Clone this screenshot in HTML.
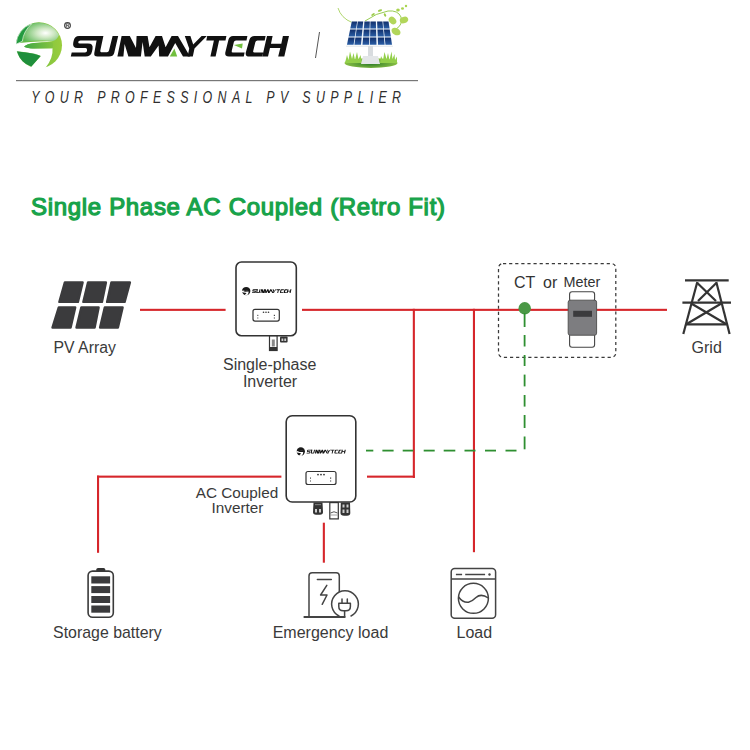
<!DOCTYPE html>
<html><head><meta charset="utf-8">
<style>
html,body{margin:0;padding:0;background:#fff;width:750px;height:750px;overflow:hidden}
svg{display:block;position:absolute;left:0;top:0}
text{font-family:"Liberation Sans",sans-serif}
</style></head>
<body>
<svg width="750" height="750" viewBox="0 0 750 750">
<defs>
  <radialGradient id="capg" cx="0.62" cy="0.55" r="0.7">
    <stop offset="0" stop-color="#ffffff"/>
    <stop offset="0.35" stop-color="#cfe8c4"/>
    <stop offset="1" stop-color="#58b552"/>
  </radialGradient>
  <linearGradient id="rightg" x1="0" y1="0" x2="1" y2="0">
    <stop offset="0" stop-color="#5cb848"/>
    <stop offset="1" stop-color="#9acd3c"/>
  </linearGradient>
  <linearGradient id="midg" x1="0" y1="0" x2="1" y2="0">
    <stop offset="0" stop-color="#3fa845"/>
    <stop offset="1" stop-color="#86c440"/>
  </linearGradient>
  <linearGradient id="panelg" x1="0" y1="0" x2="0" y2="1">
    <stop offset="0" stop-color="#12306c"/>
    <stop offset="1" stop-color="#2a5ea6"/>
  </linearGradient>
  <radialGradient id="grassg" cx="0.5" cy="0.6" r="0.6">
    <stop offset="0" stop-color="#2f7d2a"/>
    <stop offset="1" stop-color="#9ccc4a"/>
  </radialGradient>
</defs>

<!-- ===== Header logo ===== -->
<g id="logo">
  <!-- right crescent + cap base -->
  <circle cx="39" cy="45.3" r="23" fill="url(#rightg)"/>
  <!-- top cap -->
  <path d="M23.5,41.5 Q23,30 32,23.7 A23,23 0 0 1 59,35 Q57,40 53,41 Q41,40 23.5,41.5Z" fill="url(#capg)"/>
  <!-- white S swoosh -->
  <path id="swoosh" d="M14,43.8 Q30,41 53,41.2 Q40,42.6 34,42.9 Q26,44 24.1,46.8 Q28,48.8 34,48.6 L52.5,48.2 Q53.5,58 45,68.5 L30,70 L31.4,66.6 L40.8,56 Q36,53.5 17,51.3 L14,51Z" fill="#fff"/>
  <!-- middle band -->
  <path d="M24.1,46.8 Q27,43.5 34,42.9 L52.5,42.2 Q54,45 52.5,48.2 L34,48.6 Q27,48.6 24.1,46.8Z" fill="url(#midg)"/>
  <!-- top-left dark crescent -->
  <path d="M16,44.2 A23,23 0 0 1 31.8,23.7 Q23.5,31 22.3,41.3 Z" fill="#239a3f" stroke="#fff" stroke-width="0.6"/>
  <!-- bottom-left dark -->
  <path d="M17.1,51.5 Q36,53.5 40.6,55.9 L31.4,66.6 A23,23 0 0 1 17.1,51.5Z" fill="#1f8f3c"/>
  <!-- registered mark -->
  <circle cx="67.5" cy="25.5" r="2.9" fill="none" stroke="#444" stroke-width="1.1"/>
  <path d="M66.3,27.3 V23.8 H67.9 Q69,23.8 69,24.7 Q69,25.6 67.9,25.6 H66.3 M67.8,25.6 L69,27.3" fill="none" stroke="#444" stroke-width="0.8"/>
  <!-- brand text -->
  <g id="brandtext" fill="#111">
    <path d="M79,36 L102,36 L101,40.4 L80.5,40.4 Q78.5,40.4 78.2,42 Q78,43.6 80,43.6 L88,43.6 Q93.5,43.6 92.5,49 L92,51.5 Q91,56.6 85.5,56.6 L70.8,56.6 L71.7,52.4 L85,52.4 Q86.8,52.4 87,51 Q87.3,48 85.5,48 L77.5,48 Q72.3,48 73.2,43 L73.6,41 Q74.6,36 79,36Z"/>
    <path d="M97.4,36 L103.4,36 L100.4,50 Q99.8,52.3 102,52.3 L107,52.3 Q108.5,52.3 109,50.5 L112.6,36 L118.2,36 L114.2,53 Q113.3,56.6 109,56.6 L97.5,56.6 Q93.6,56.6 94.3,53Z"/>
    <path d="M117.4,56.6 L121.6,36 L129.8,36 L136,48 L136.6,36 L147.6,36 L149.5,47.2 L155.6,36 L162,36 L165.6,47.2 L171.6,36 L178,36 L190,56.6 L183,56.6 L175.2,43 L168,56.6 L159.2,56.6 L158.6,45.5 L150.8,56.6 L144.7,56.6 L142.6,42 L140.9,56.6 L128.4,56.6 L124.6,44 L123.4,56.6Z"/>
    <path d="M184.8,36 L190.4,36 L193.2,44.5 L201.6,36 L206.8,36 L194.5,48.5 L192.8,56.6 L187.6,56.6 L189.2,48.5Z"/>
    <path d="M207.2,36 L226.4,36 L225.5,40.4 L219.1,40.4 L215.6,56.6 L210.4,56.6 L213.9,40.4 L206.3,40.4Z"/>
    <path d="M233,36 L247.4,36 L246.5,40.5 L236,40.5 Q234.3,40.5 233.9,42 L231.7,51 Q231.3,52.5 233,52.5 L244.6,52.5 L243.8,56.6 L229,56.6 Q224.5,56.6 225.3,52.5 L228.5,39.5 Q229.5,36 233,36Z"/>
    <path d="M254.5,36 L265.6,36 L264.7,40.5 L257.5,40.5 Q255.8,40.5 255.4,42 L253.2,51 Q252.8,52.5 254.5,52.5 L263.2,52.5 L262.3,56.6 L249.5,56.6 Q245,56.6 245.8,52.5 L249.5,39.5 Q250.5,36 254.5,36Z"/>
    <path d="M267,36 L272.6,36 L271,43.7 L281.3,43.7 L282.9,36 L289,36 L284.3,56.6 L278.2,56.6 L280.3,48 L270,48 L268,56.6 L262.3,56.6Z"/>
  </g>
  <path d="M169.8,56.6 L174.4,48.4 L177.2,56.6Z" fill="#72bf3f"/>
  <path d="M233.9,45.1 L242.7,43.4 L242,48.4Z" fill="#72bf3f"/>
</g>

<!-- slash -->
<line x1="319.5" y1="32" x2="315.5" y2="58" stroke="#555" stroke-width="1"/>

<!-- solar panel picture -->
<g id="panel">
  <!-- vine -->
  <path d="M338,8 Q341,18 352,22.5" stroke="#9ccb4a" stroke-width="0.8" fill="none"/>
  <path d="M365,21 Q376,13 388,11 Q398,10 401,17 Q403,25 396,29" stroke="#8cc63f" stroke-width="0.9" fill="none"/>
  <ellipse cx="392.5" cy="20.5" rx="4.3" ry="3.3" transform="rotate(50 392.5 20.5)" fill="#b2d65a"/>
  <ellipse cx="404" cy="20" rx="4.3" ry="3.2" transform="rotate(-20 404 20)" fill="#b2d65a"/>
  <ellipse cx="396" cy="31.5" rx="4.8" ry="3.4" transform="rotate(30 396 31.5)" fill="#b2d65a"/>
  <ellipse cx="398" cy="10" rx="1.8" ry="1.5" fill="#a9d44f"/>
  <ellipse cx="402.5" cy="8.5" rx="1.5" ry="1.3" fill="#a9d44f"/>
  <ellipse cx="406" cy="6" rx="1.2" ry="1.2" fill="#a9d44f"/>
  <ellipse cx="380" cy="10.5" rx="2.2" ry="1" transform="rotate(-20 380 10.5)" fill="#9ccb4a"/>
  <ellipse cx="373" cy="14.5" rx="2" ry="1" transform="rotate(-30 373 14.5)" fill="#9ccb4a"/>
  <ellipse cx="385" cy="15" rx="1.8" ry="1" transform="rotate(60 385 15)" fill="#9ccb4a"/>
  <!-- panel -->
  <path d="M351.6,21.3 L388.7,21.3 L392.4,45 L346.6,45Z" fill="#f0f6fb"/>
  <g fill="url(#panelg)">
  <path d="M351.80,21.6 L357.16,21.6 L356.07,28.6 L350.35,28.6Z"/>
  <path d="M357.82,21.6 L363.18,21.6 L362.50,28.6 L356.78,28.6Z"/>
  <path d="M364.46,21.6 L369.82,21.6 L369.60,28.6 L363.87,28.6Z"/>
  <path d="M370.48,21.6 L375.84,21.6 L376.03,28.6 L370.31,28.6Z"/>
  <path d="M377.12,21.6 L382.48,21.6 L383.13,28.6 L377.40,28.6Z"/>
  <path d="M383.14,21.6 L388.50,21.6 L389.56,28.6 L383.84,28.6Z"/>
  <path d="M350.14,29.6 L355.92,29.6 L354.83,36.6 L348.68,36.6Z"/>
  <path d="M356.63,29.6 L362.41,29.6 L361.73,36.6 L355.59,36.6Z"/>
  <path d="M363.79,29.6 L369.57,29.6 L369.35,36.6 L363.20,36.6Z"/>
  <path d="M370.28,29.6 L376.06,29.6 L376.25,36.6 L370.11,36.6Z"/>
  <path d="M377.44,29.6 L383.22,29.6 L383.87,36.6 L377.72,36.6Z"/>
  <path d="M383.93,29.6 L389.71,29.6 L390.77,36.6 L384.63,36.6Z"/>
  <path d="M348.48,37.6 L354.67,37.6 L353.57,44.7 L347.00,44.7Z"/>
  <path d="M355.44,37.6 L361.63,37.6 L360.95,44.7 L354.38,44.7Z"/>
  <path d="M363.12,37.6 L369.32,37.6 L369.10,44.7 L362.52,44.7Z"/>
  <path d="M370.08,37.6 L376.28,37.6 L376.48,44.7 L369.90,44.7Z"/>
  <path d="M377.77,37.6 L383.96,37.6 L384.62,44.7 L378.05,44.7Z"/>
  <path d="M384.73,37.6 L390.92,37.6 L392.00,44.7 L385.43,44.7Z"/>
  </g>
  <line x1="346" y1="46.2" x2="393" y2="46.2" stroke="#d8dde2" stroke-width="0.8"/>
  <!-- grass -->
  <ellipse cx="371" cy="63" rx="26.5" ry="5" fill="url(#grassg)"/>
  <path d="M345,63 L347,55 L348.5,60 L350,51.5 L352,59 L353.5,53 L355,60 L357,52 L358.5,59.5 L360.5,55 L362,63Z M380,63 L381,56 L383,60 L384.5,52 L386.5,59 L388,53 L389.5,60 L391.5,51.5 L392.5,59 L394.5,54 L395,60 L397,56.5 L397,63Z" fill="#93cf4a"/>
  <!-- pole & base -->
  <rect x="368" y="46" width="5" height="11" fill="#d8dcdf"/>
  <path d="M363,56 L378,56 L380,64 L361,64Z" fill="#e3e6e8"/>
</g>

<!-- rule -->
<rect x="16" y="80" width="402" height="1.2" fill="#777"/>
<!-- tagline -->
<text x="0" y="0" transform="translate(31.2,103.2) scale(0.74,1)" font-size="16.8" font-style="italic" fill="#2e2e2e" letter-spacing="7.2">YOUR PROFESSIONAL PV SUPPLIER</text>

<!-- title -->
<text x="31" y="215.3" font-size="24" fill="#18a34a" stroke="#18a34a" stroke-width="1.25" letter-spacing="0.68">Single Phase AC Coupled (Retro Fit)</text>

<!-- ===== red power lines ===== -->
<g fill="#d6262b">
  <rect x="140" y="308.8" width="85.6" height="2.1"/>
  <rect x="302" y="308.8" width="365" height="2.1"/>
  <rect x="412.8" y="308.8" width="2.1" height="169.2"/>
  <rect x="472.9" y="308.8" width="2.1" height="243.4"/>
  <rect x="367" y="475.6" width="47.9" height="2.1"/>
  <rect x="97" y="475.6" width="184.4" height="2.1"/>
  <rect x="97" y="475.6" width="2.1" height="77.2"/>
  <rect x="322.8" y="522.7" width="2.1" height="40"/>
</g>

<!-- ===== PV array ===== -->
<g fill="#3b3b3d" stroke="#3b3b3d" stroke-width="2.4" stroke-linejoin="round">
  <path d="M64.9,282.4 L82.6,282.4 L77.9,301.9 L59.4,301.9Z"/>
  <path d="M88.1,282.4 L105.9,282.4 L101.9,301.9 L83.4,301.9Z"/>
  <path d="M111.4,282.4 L129.9,282.4 L124.6,301.9 L107.1,301.9Z"/>
  <path d="M58.8,307.4 L75.2,307.4 L70.6,327.6 L52.5,327.6Z"/>
  <path d="M81.4,307.4 L98.6,307.4 L94.6,327.6 L76.5,327.6Z"/>
  <path d="M104.8,307.4 L122.6,307.4 L117.9,327.6 L100.1,327.6Z"/>
</g>
<text x="53.5" y="353" font-size="15.8" fill="#3a3a3a">PV Array</text>

<!-- ===== Single-phase inverter ===== -->
<g id="inv1">
  <rect x="236" y="262" width="60.3" height="73.7" rx="5.5" fill="#fff" stroke="#333" stroke-width="1.6"/>
  <g transform="translate(246.2,291.05) scale(0.181) translate(-39,-45.3)">
    <circle cx="39" cy="45.3" r="23" fill="#1a1a1a"/>
    <path d="M14,43.8 Q30,41 53,41.2 Q40,42.6 34,42.9 Q26,44 24.1,46.8 Q28,48.8 34,48.6 L52.5,48.2 Q53.5,58 45,68.5 L30,70 L31.4,66.6 L40.8,56 Q36,53.5 17,51.3 L14,51Z" fill="#fff"/>
    <use href="#brandtext" fill="#222"/>
  </g>
  <rect x="253" y="309.3" width="26.3" height="11.8" rx="2" fill="#fff" stroke="#333" stroke-width="1.2"/>
  <circle cx="263.5" cy="312.3" r="0.8" fill="#333"/><circle cx="266" cy="312.3" r="0.8" fill="#333"/><circle cx="268.5" cy="312.3" r="0.8" fill="#333"/>
  <rect x="257.3" y="314.8" width="1" height="1.2" fill="#444"/><rect x="257.3" y="317.5" width="1" height="1" fill="#444"/>
  <rect x="273.8" y="314.8" width="1.2" height="1.2" fill="#444"/><rect x="273.8" y="317.5" width="1.2" height="1" fill="#444"/>
  <!-- connectors -->
  <rect x="269.5" y="336" width="7.6" height="14.5" fill="#fff" stroke="#333" stroke-width="1.2"/>
  <rect x="271.8" y="339.5" width="3" height="7" fill="#888"/>
  <rect x="269.5" y="347" width="7.6" height="3.5" fill="#333"/>
  <rect x="280" y="336.5" width="7.6" height="6" rx="1" fill="#333"/>
  <rect x="281.5" y="338.5" width="1.8" height="2.5" fill="#ccc"/><rect x="284.3" y="338.5" width="1.8" height="2.5" fill="#ccc"/>
</g>
<text x="269.7" y="370.2" font-size="16" fill="#3a3a3a" text-anchor="middle">Single-phase</text>
<text x="270" y="386.6" font-size="16" fill="#3a3a3a" text-anchor="middle">Inverter</text>

<!-- ===== CT / Meter dashed box ===== -->
<rect x="498.5" y="263.5" width="117.3" height="93.8" rx="4.5" fill="none" stroke="#3a3a3a" stroke-width="1.25" stroke-dasharray="3.2 2.9"/>
<text x="514" y="287.7" font-size="16" fill="#333">CT</text>
<text x="543" y="287.7" font-size="16" fill="#333">or</text>
<text x="563.6" y="286.8" font-size="14.4" fill="#333">Meter</text>
<!-- meter -->
<rect x="569.6" y="291.8" width="25" height="10" rx="2.5" fill="#fff" stroke="#444" stroke-width="1.1"/>
<rect x="569.6" y="333" width="25" height="14.3" rx="2.5" fill="#fff" stroke="#444" stroke-width="1.1"/>
<rect x="568.2" y="300.2" width="28.4" height="35" rx="2" fill="#7d7d80" stroke="#555" stroke-width="1"/>
<rect x="573.2" y="310.8" width="18.8" height="6" fill="#3b3b3d"/>
<!-- CT dot -->
<circle cx="524.7" cy="308.3" r="6.2" fill="#4a9846"/>

<!-- ===== green dashed signal line ===== -->
<g fill="#2e8f31">
  <rect x="523.7" y="313" width="1.8" height="14.0"/>
  <rect x="523.7" y="335" width="1.8" height="11.5"/>
  <rect x="523.7" y="355" width="1.8" height="11.0"/>
  <rect x="523.7" y="374.6" width="1.8" height="11.8"/>
  <rect x="523.7" y="395" width="1.8" height="11.6"/>
  <rect x="523.7" y="415" width="1.8" height="13.0"/>
  <rect x="523.7" y="436.5" width="1.8" height="12.8"/>
  <rect x="366" y="449.7" width="7.3" height="1.8"/>
  <rect x="382.4" y="449.7" width="11.2" height="1.8"/>
  <rect x="402.7" y="449.7" width="10.6" height="1.8"/>
  <rect x="423.7" y="449.7" width="11.0" height="1.8"/>
  <rect x="443.7" y="449.7" width="11.6" height="1.8"/>
  <rect x="464.5" y="449.7" width="11.0" height="1.8"/>
  <rect x="485" y="449.7" width="11.0" height="1.8"/>
  <rect x="505.5" y="449.7" width="11.0" height="1.8"/>
</g>

<!-- ===== Grid tower ===== -->
<g stroke="#333" stroke-width="2.2" fill="none" stroke-linecap="butt">
  <line x1="685" y1="280.3" x2="728.7" y2="280.3"/>
  <line x1="682.4" y1="302.7" x2="731" y2="302.7"/>
  <line x1="686" y1="324.4" x2="726.7" y2="324.4"/>
  <line x1="697.3" y1="282" x2="683.3" y2="334"/>
  <line x1="716.3" y1="282" x2="729.6" y2="334"/>
  <line x1="697.3" y1="283" x2="716" y2="301"/>
  <line x1="716.3" y1="283" x2="698" y2="301"/>
  <line x1="691.3" y1="303.5" x2="726" y2="324"/>
  <line x1="721.3" y1="303.5" x2="686.7" y2="324"/>
</g>
<text x="706.7" y="352.7" font-size="16" fill="#3a3a3a" text-anchor="middle">Grid</text>

<!-- ===== AC coupled inverter ===== -->
<g id="inv2">
  <rect x="286.2" y="415.7" width="69.6" height="86.3" rx="6" fill="#fff" stroke="#333" stroke-width="1.6"/>
  <g transform="translate(300.8,451.45) scale(0.18) translate(-39,-45.3)">
    <circle cx="39" cy="45.3" r="23" fill="#1a1a1a"/>
    <path d="M14,43.8 Q30,41 53,41.2 Q40,42.6 34,42.9 Q26,44 24.1,46.8 Q28,48.8 34,48.6 L52.5,48.2 Q53.5,58 45,68.5 L30,70 L31.4,66.6 L40.8,56 Q36,53.5 17,51.3 L14,51Z" fill="#fff"/>
    <use href="#brandtext" fill="#222"/>
  </g>
  <rect x="306" y="471.5" width="30" height="13" rx="2" fill="#fff" stroke="#333" stroke-width="1.2"/>
  <circle cx="318" cy="474.6" r="0.9" fill="#333"/><circle cx="321" cy="474.6" r="0.9" fill="#333"/><circle cx="324" cy="474.6" r="0.9" fill="#333"/>
  <rect x="310" y="477.5" width="1" height="1.2" fill="#444"/><rect x="310" y="480.5" width="1" height="1" fill="#444"/>
  <rect x="330" y="477.5" width="1.2" height="1.2" fill="#444"/><rect x="330" y="480.5" width="1.2" height="1" fill="#444"/>
  <!-- connectors -->
  <path d="M313.5,502.5 L322.5,502.5 L323,512 Q323,514.7 320,514.7 L316,514.7 Q313,514.7 313,512Z" fill="#333"/>
  <rect x="315" y="509" width="2" height="3.5" fill="#ccc"/><rect x="319" y="509" width="2" height="3.5" fill="#ccc"/>
  <rect x="315" y="504" width="6" height="1.2" fill="#777"/>
  <rect x="329.8" y="502.6" width="8.5" height="16.3" fill="#fff" stroke="#333" stroke-width="1.2"/>
  <path d="M330.5,513 Q334,510.5 337.5,513" stroke="#444" stroke-width="0.9" fill="none"/>
  <line x1="330.5" y1="515" x2="337.5" y2="515" stroke="#666" stroke-width="0.6"/>
  <path d="M340.8,502.5 L350,502.5 L350.3,513 Q350.3,515.8 347,515.8 L344,515.8 Q340.5,515.8 340.5,513Z" fill="#333"/>
  <rect x="342.5" y="509.5" width="2" height="3.5" fill="#ccc"/><rect x="346.5" y="509.5" width="2" height="3.5" fill="#ccc"/>
  <rect x="342.5" y="504.5" width="2" height="3" fill="#ccc"/><rect x="346.5" y="504.5" width="2" height="3" fill="#ccc"/>
</g>
<text x="237" y="498" font-size="15.3" fill="#3a3a3a" text-anchor="middle">AC Coupled</text>
<text x="237.5" y="513.3" font-size="15.3" fill="#3a3a3a" text-anchor="middle">Inverter</text>

<!-- ===== Storage battery ===== -->
<g>
  <path d="M96.3,571 L96.3,569.5 Q96.3,568 98,568 L103.6,568 Q105.3,568 105.3,569.5 L105.3,571Z" fill="#333"/>
  <rect x="88.1" y="571.1" width="25.2" height="46.2" rx="4.5" fill="#fff" stroke="#3a3a3a" stroke-width="1.6"/>
  <rect x="91.3" y="576.3" width="18.8" height="7.2" fill="#3b3b3d"/>
  <rect x="91.3" y="586.1" width="18.8" height="7" fill="#3b3b3d"/>
  <rect x="91.3" y="596" width="18.8" height="7" fill="#3b3b3d"/>
  <rect x="91.3" y="605.5" width="18.8" height="7.2" fill="#3b3b3d"/>
</g>
<text x="107.4" y="637.6" font-size="15.9" fill="#3a3a3a" text-anchor="middle">Storage battery</text>

<!-- ===== Emergency load ===== -->
<g stroke="#444" stroke-width="1.5" fill="none" stroke-linecap="round" stroke-linejoin="round">
  <path d="M309,617 L309,576 Q309,572.8 312.2,572.8 L336.2,572.8 Q339.3,572.8 339.3,576 L339.3,591.5"/>
  <line x1="304.4" y1="617.1" x2="344.6" y2="617.1" stroke-width="2"/>
  <line x1="317.4" y1="579.4" x2="331.3" y2="579.4"/>
  <path d="M326.8,585.4 L320.6,595 L327,595 L322.2,604.3"/>
  <path d="M339,616 A13.35,13.35 0 1 1 351,616"/>
  <path d="M338.8,603.2 L350.4,603.2 L350.4,606.5 Q350.4,610.8 346,610.8 L343.2,610.8 Q338.8,610.8 338.8,606.5Z"/>
  <line x1="342" y1="599" x2="342" y2="603"/>
  <line x1="347.3" y1="599" x2="347.3" y2="603"/>
  <line x1="344.6" y1="610.8" x2="344.6" y2="617"/>
</g>
<text x="330.5" y="637.5" font-size="16" fill="#3a3a3a" text-anchor="middle">Emergency load</text>

<!-- ===== Load (washing machine) ===== -->
<g stroke="#444" stroke-width="1.5" fill="none">
  <rect x="451.2" y="568.4" width="44.4" height="49.8" rx="3.5"/>
  <line x1="451.2" y1="579" x2="495.6" y2="579"/>
  <line x1="455.9" y1="574.5" x2="462.1" y2="574.5"/>
  <line x1="465.2" y1="574.5" x2="485.1" y2="574.5"/>
  <circle cx="473.4" cy="598.3" r="15"/>
  <path d="M458.6,597 Q463,603 468.5,602.3 Q472,601.5 476,597.5 Q481,593 488.3,598"/>
</g>
<circle cx="489.5" cy="574.5" r="1.2" fill="#444"/>
<text x="474.3" y="637.7" font-size="16" fill="#3a3a3a" text-anchor="middle">Load</text>

</svg>
</body></html>
